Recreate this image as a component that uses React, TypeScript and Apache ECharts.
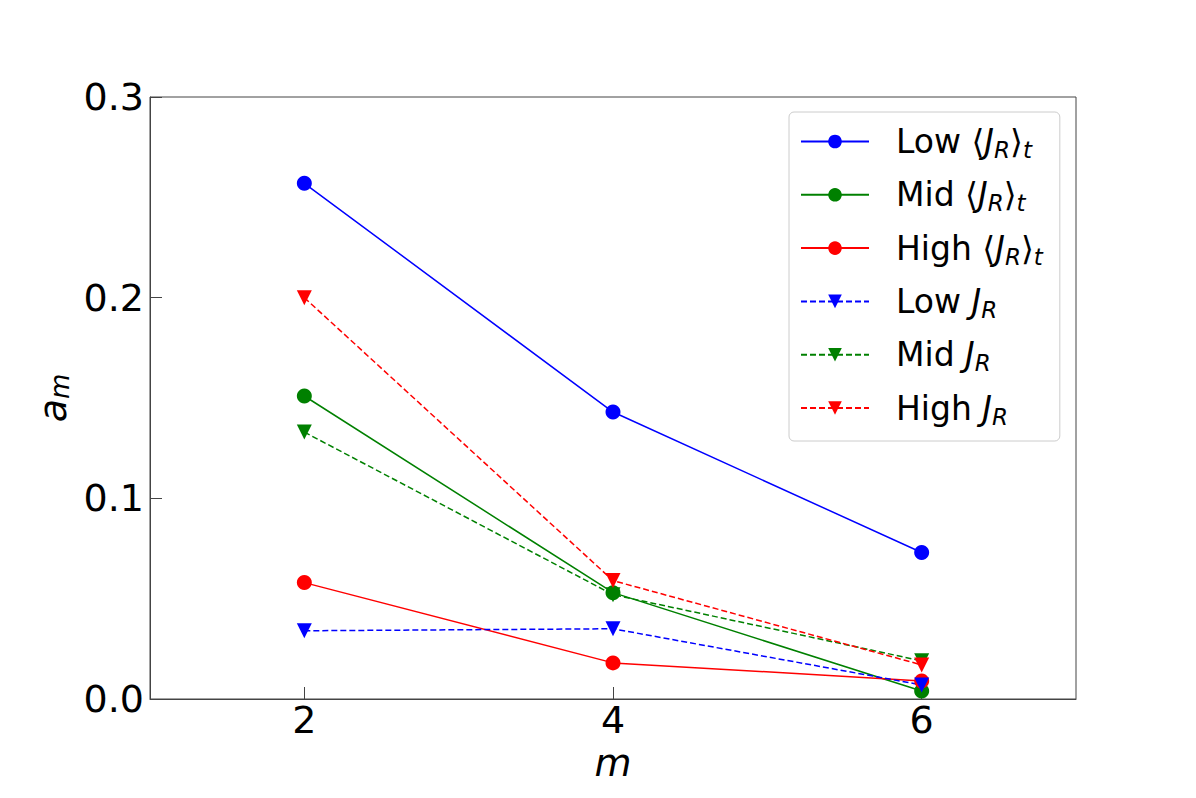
import React, { useEffect, useRef } from "react";
import * as echarts from "echarts";

const mValues = [2, 4, 6];
const xTicks = [2, 4, 6];
const lowAvg = [0.257, 0.143, 0.073];
const midAvg = [0.151, 0.053, 0.004];
const highAvg = [0.058, 0.018, 0.009];
const lowJR = [0.034, 0.035, 0.007];
const midJR = [0.133, 0.052, 0.019];
const highJR = [0.2, 0.059, 0.017];

const FONT = "DejaVu Sans";
const TRI = "path://M0,0 L2,0 L1,2 Z";

export default function App() {
  const ref = useRef<HTMLDivElement>(null);
  useEffect(() => {
    document.body.style.margin = "0";
    const chart = echarts.init(ref.current!, null, { renderer: "svg" });
    const mk = (
      name: string,
      data: number[],
      color: string,
      dashed: boolean
    ) => ({
      name,
      type: "line",
      data: mValues.map((m, i) => [m, data[i]]),
      symbol: dashed ? TRI : "circle",
      symbolSize: 15,
      showSymbol: true,
      itemStyle: { color },
      lineStyle: {
        color,
        width: 1.5,
        type: dashed ? [6, 3] : "solid",
      },
      z: 2,
    });
    const legendRich = {
      n: { fontFamily: FONT, fontSize: 33, color: "#000", lineHeight: 40 },
      i: {
        fontFamily: FONT,
        fontSize: 33,
        fontStyle: "italic",
        color: "#000",
        lineHeight: 40,
      },
      sub: {
        fontFamily: FONT,
        fontSize: 23,
        fontStyle: "italic",
        color: "#000",
        lineHeight: 24,
        verticalAlign: "bottom",
      },
    };
    const labels: Record<string, string> = {
      "Low avg": "{n|Low ⟨}{i|J}{sub|R}{n|⟩}{sub|t}",
      "Mid avg": "{n|Mid ⟨}{i|J}{sub|R}{n|⟩}{sub|t}",
      "High avg": "{n|High ⟨}{i|J}{sub|R}{n|⟩}{sub|t}",
      "Low JR": "{n|Low }{i|J}{sub|R}",
      "Mid JR": "{n|Mid }{i|J}{sub|R}",
      "High JR": "{n|High }{i|J}{sub|R}",
    };
    chart.setOption({
      animation: false,
      backgroundColor: "#fff",
      grid: {
        left: 150,
        top: 97,
        width: 926,
        height: 602,
        show: true,
        borderColor: "#444",
        borderWidth: 1,
        backgroundColor: "transparent",
      },
      legend: {
        orient: "vertical",
        left: 789,
        top: 112,
        padding: [13, 17, 13, 11],
        itemGap: 16.8,
        itemWidth: 68,
        itemHeight: 17,
        borderColor: "#ccc",
        borderWidth: 1,
        borderRadius: 5,
        backgroundColor: "rgba(255,255,255,0.8)",
        textStyle: { rich: legendRich, padding: [0, 0, 0, 22] },
        formatter: (n: string) => labels[n],
        data: ["Low avg", "Mid avg", "High avg", "Low JR", "Mid JR", "High JR"],
      },
      xAxis: {
        type: "value",
        min: 1,
        max: 7,
        name: "{i|m}",
        nameLocation: "middle",
        nameGap: 40,
        nameTextStyle: {
          rich: {
            i: { fontFamily: FONT, fontSize: 38, fontStyle: "italic", color: "#000" },
          },
        },
        splitLine: { show: false },
        axisLine: { show: true, lineStyle: { color: "#444", width: 1 } },
        axisTick: {
          show: true,
          inside: true,
          length: 12,
          customValues: xTicks,
          lineStyle: { color: "#444", width: 1 },
        },
        axisLabel: {
          customValues: xTicks,
          fontFamily: FONT,
          fontSize: 38,
          color: "#000",
          margin: 2,
        },
      },
      yAxis: {
        type: "value",
        min: 0,
        max: 0.3,
        interval: 0.1,
        name: "{i|a}{sub|m}",
        nameLocation: "middle",
        nameGap: 73,
        nameRotate: 90,
        nameTextStyle: {
          rich: {
            i: {
              fontFamily: FONT,
              fontSize: 38,
              fontStyle: "italic",
              color: "#000",
              lineHeight: 40,
            },
            sub: {
              fontFamily: FONT,
              fontSize: 26,
              fontStyle: "italic",
              color: "#000",
              lineHeight: 28,
              verticalAlign: "bottom",
            },
          },
        },
        splitLine: { show: false },
        axisLine: { show: true, lineStyle: { color: "#444", width: 1 } },
        axisTick: {
          show: true,
          inside: true,
          length: 12,
          lineStyle: { color: "#444", width: 1 },
        },
        axisLabel: {
          fontFamily: FONT,
          fontSize: 38,
          color: "#000",
          margin: 6,
          formatter: (v: number) => v.toFixed(1),
        },
      },
      series: [
        mk("Low avg", lowAvg, "#0000ff", false),
        mk("Mid avg", midAvg, "#008000", false),
        mk("High avg", highAvg, "#ff0000", false),
        mk("Low JR", lowJR, "#0000ff", true),
        mk("Mid JR", midJR, "#008000", true),
        mk("High JR", highJR, "#ff0000", true),
      ],
    });
    return () => chart.dispose();
  }, []);
  return <div ref={ref} style={{ width: 1196, height: 798 }} />;
}
